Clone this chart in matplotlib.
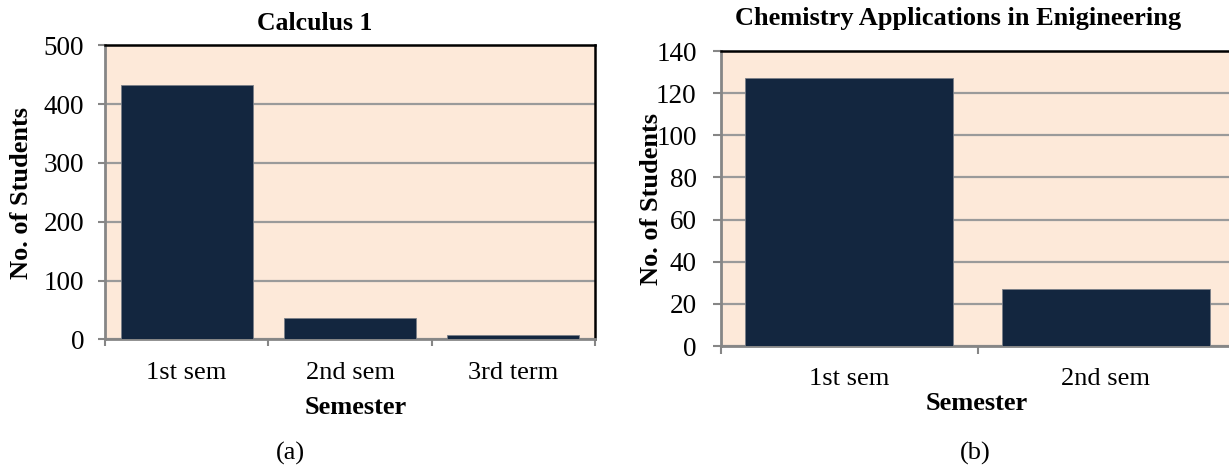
import matplotlib
matplotlib.use("Agg")
import matplotlib.pyplot as plt
import numpy as np

plt.rcParams['font.family'] = ['Liberation Serif', 'DejaVu Serif']

# Data
calc_categories = ["1st sem", "2nd sem", "3rd term"]
calc_values = [432, 36, 7]
chem_categories = ["1st sem", "2nd sem"]
chem_values = [127, 27]

W, H = 1229, 465
fig = plt.figure(figsize=(W / 100, H / 100), dpi=100)

BG = "#FDE9D9"
BAR = "#13263F"
GRAY = "#868686"
GRID = "#9A9A9A"


def px_axes(x0, y0, x1, y1):
    return fig.add_axes([x0 / W, 1 - y1 / H, (x1 - x0) / W, (y1 - y0) / H])


def style(ax, cats, vals, ymax, ystep, ypad, tlen):
    n = len(cats)
    x = np.arange(n)
    ax.set_facecolor(BG)
    ax.bar(x, vals, width=0.81, color=BAR, edgecolor="#7a7f88", linewidth=0.6, zorder=3)
    ax.set_xlim(-0.5, n - 0.5)
    ax.set_ylim(0, ymax)
    ax.set_yticks(np.arange(0, ymax + 1, ystep))
    ax.yaxis.grid(True, color=GRID, linewidth=1.6, zorder=1)
    ax.set_axisbelow(True)
    ax.set_xticks(x)
    ax.set_xticklabels(cats, fontsize=19)
    ax.set_xticks(np.arange(n + 1) - 0.5, minor=True)
    ax.tick_params(axis='x', which='major', length=0, pad=16)
    ax.tick_params(axis='x', which='minor', length=tlen, width=1.5, color=GRAY, direction='out')
    ax.tick_params(axis='y', length=tlen, width=1.5, color=GRAY, labelsize=19.5, pad=ypad)
    for s in ("left", "bottom"):
        ax.spines[s].set_color(GRAY)
        ax.spines[s].set_linewidth(2)
    for s in ("top", "right"):
        ax.spines[s].set_color("black")
        ax.spines[s].set_linewidth(1.8)


ax1 = px_axes(105, 45.3, 595, 339.3)
style(ax1, calc_categories, calc_values, 500, 100, 10, 5)

ax2 = px_axes(721, 51, 1234, 346)
style(ax2, chem_categories, chem_values, 140, 20, 12, 5.5)


def ftext(x, y, s, **kw):
    fig.text(x / W, 1 - y / H, s, ha='center', va='center', **kw)


ftext(315, 23, "Calculus 1", fontsize=18.5, fontweight='bold')
ftext(356, 407, "Semester", fontsize=19, fontweight='bold')
ftext(22, 193, "No. of Students", fontsize=19, fontweight='bold', rotation=90)
ftext(290, 453, "(a)", fontsize=19)

ftext(958, 18, "Chemistry Applications in Enigineering", fontsize=19, fontweight='bold')
ftext(977, 404, "Semester", fontsize=19, fontweight='bold')
ftext(652, 199, "No. of Students", fontsize=19, fontweight='bold', rotation=90)
ftext(975, 453, "(b)", fontsize=19)

fig.savefig("out.png", dpi=100)
